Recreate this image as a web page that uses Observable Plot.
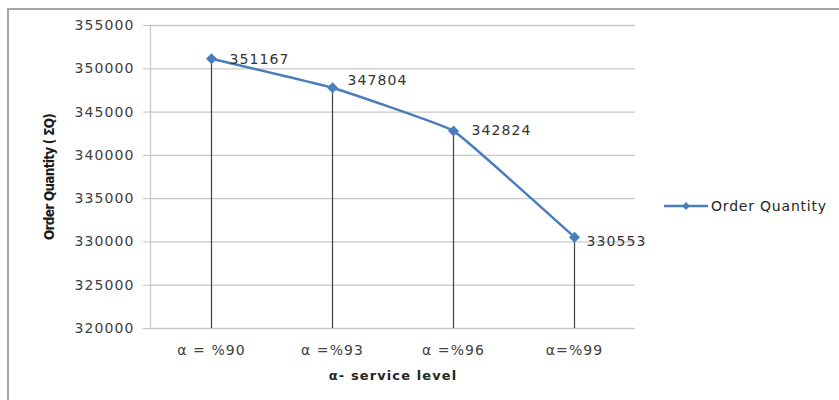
<!DOCTYPE html>
<html>
<head>
<meta charset="utf-8">
<script src="https://cdn.jsdelivr.net/npm/d3@7"></script>
<script src="https://cdn.jsdelivr.net/npm/@observablehq/plot@0.6"></script>
<style>
  html, body { margin: 0; padding: 0; background: #fff; overflow: hidden; }
  #wrap { position: relative; width: 839px; height: 400px; }
  #border { position: absolute; left: 7px; top: 8px; width: 900px; height: 500px;
            border-left: 2px solid #a6a6a6; border-top: 2px solid #a6a6a6; }
  #chart { position: absolute; left: 0; top: 0; }
  #chart svg text { letter-spacing: 1.1px; }
  #chart svg g[font-family*="Condensed"] text { letter-spacing: -0.75px; }
  #legend { position: absolute; left: 663px; top: 198px; display: flex; align-items: center;
            font-family: "DejaVu Sans"; font-size: 14px; letter-spacing: 0.8px; color: #262626; }
  #legend svg { margin-right: 2px; }
</style>
</head>
<body>
<div id="wrap">
  <div id="border"></div>
  <div id="chart"></div>
  <div id="legend"></div>
</div>
<script>
// Order quantity at each α service level
const levels = ["α = %90", "α =%93", "α =%96", "α=%99"];
const orderQty = [351167, 347804, 342824, 330553];
const yTicks = [320000, 325000, 330000, 335000, 340000, 345000, 350000, 355000];
const seriesName = "Order Quantity";
const yTitle = "Order Quantity ( ΣQ)";
const xTitle = "α- service level";

const data = levels.map((level, i) => ({level, qty: orderQty[i]}));
const yMin = yTicks[0];
const yMax = yTicks[yTicks.length - 1];
const blue = "#4a7ebb";
const ink = "#333";

const labelAt = (idx, opts) => Plot.text(data.filter((d, i) => idx.includes(i)), {
  x: "level", y: "qty", text: d => String(d.qty), textAnchor: "start",
  fill: ink, fontSize: 14, ...opts
});

const chart = Plot.plot({
  width: 839,
  height: 400,
  marginTop: 25,
  marginBottom: 72,
  marginLeft: 150,
  marginRight: 204,
  style: {fontFamily: "DejaVu Sans", fontSize: "14px", background: "transparent"},
  x: {type: "point", domain: levels, padding: 0.5, label: null},
  y: {domain: [yMin, yMax], label: null},
  marks: [
    Plot.gridY(yTicks, {stroke: "#c8c8c8", strokeOpacity: 1, strokeWidth: 1.3}),
    Plot.frame({anchor: "left", stroke: "#c8c8c8", strokeWidth: 1.3}),
    Plot.axisY({ticks: yTicks, tickSize: 7, tickPadding: 9, tickFormat: d3.format("d"),
                stroke: "#bfbfbf", fill: "#404040", fontSize: 14, label: null}),
    Plot.axisX({tickSize: 0, tickPadding: 17, fill: "#404040", fontSize: 14, label: null}),
    Plot.ruleX(data, {x: "level", y1: yMin, y2: "qty", stroke: "#404040", strokeWidth: 1.2}),
    Plot.line(data, {x: "level", y: "qty", stroke: blue, strokeWidth: 2.5,
                     curve: "cardinal", tension: 0.75}),
    Plot.dot(data, {x: "level", y: "qty", symbol: "diamond2", r: 4, fill: blue, stroke: blue}),
    labelAt([0], {dx: 18, dy: 1}),
    labelAt([1], {dx: 15, dy: -7}),
    labelAt([2], {dx: 18, dy: 0}),
    labelAt([3], {dx: 12, dy: 4}),
    Plot.text([yTitle], {frameAnchor: "left", textAnchor: "middle", rotate: -90, dx: -101,
      fontFamily: "DejaVu Sans Condensed", fontWeight: "bold",
      fontSize: 13.5, fill: "#1a1a1a"}),
    Plot.text([xTitle], {frameAnchor: "bottom", dy: 51, fontWeight: "bold",
      fontSize: 13, fill: "#262626"})
  ]
});
document.getElementById("chart").appendChild(chart);

// Legend entry to the right of the plot
const legend = document.getElementById("legend");
const sw = d3.create("svg").attr("width", 46).attr("height", 16);
sw.append("line").attr("x1", 1).attr("x2", 45).attr("y1", 8).attr("y2", 8)
  .attr("stroke", blue).attr("stroke-width", 2.5);
sw.append("path").attr("d", d3.symbol(d3.symbolDiamond2, 40)()).attr("transform", "translate(23,8)")
  .attr("fill", blue);
legend.appendChild(sw.node());
const lt = document.createElement("span");
lt.textContent = seriesName;
legend.appendChild(lt);
</script>
</body>
</html>
